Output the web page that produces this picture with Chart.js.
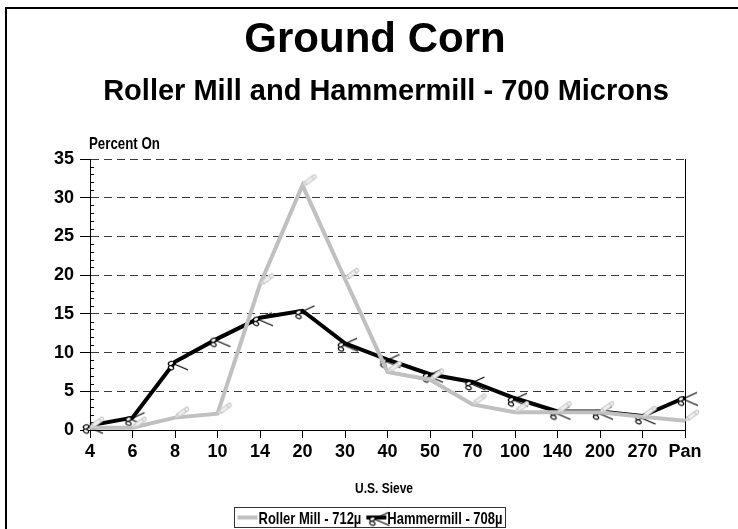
<!DOCTYPE html>
<html>
<head>
<meta charset="utf-8">
<script src="https://cdn.jsdelivr.net/npm/chart.js@4.4.0/dist/chart.umd.min.js"></script>
<style>
html, body { margin: 0; padding: 0; background: #fff; }
</style>
</head>
<body>
<canvas id="myChart" width="738" height="529"></canvas>
<script>
const sieves = ['4', '6', '8', '10', '14', '20', '30', '40', '50', '70', '100', '140', '200', '270', 'Pan'];
const rollerMill = [0.3, 0.3, 1.6, 2.1, 18.8, 31.6, 19.5, 7.5, 6.5, 3.3, 2.3, 2.3, 2.3, 1.7, 1.2];
const hammermill = [0.6, 1.6, 8.8, 11.8, 14.5, 15.4, 11.2, 9.1, 7.2, 6.2, 4.1, 2.4, 2.4, 1.8, 4.2];
const seriesNames = ['Roller Mill - 712\u00b5', 'Hammermill - 708\u00b5'];
const yMax = 35;
const yStep = 5;

const FONT = '"Liberation Sans", Arial, Helvetica, sans-serif';
Chart.defaults.font.family = FONT;
Chart.defaults.color = '#000';

// small labels in the original are a tall, narrow face: stretch them a bit
function tallText(ctx, text, x, y, px) {
    ctx.save();
    ctx.translate(x, y);
    ctx.scale(1, 1.22);
    ctx.font = 'bold ' + px + 'px ' + FONT;
    ctx.fillText(text, 0, 0);
    ctx.restore();
}

// little pencil marker for the roller mill line
function makePencil() {
    const c = document.createElement('canvas');
    c.width = 36;
    c.height = 36;
    const g = c.getContext('2d');
    g.translate(18, 18);
    g.rotate(-Math.PI / 5);
    g.fillStyle = '#efefef';
    g.strokeStyle = '#c8c8c8';
    g.lineWidth = 1;
    g.beginPath();
    g.moveTo(0, 0);
    g.lineTo(4, -2);
    g.lineTo(4, 2);
    g.closePath();
    g.fill();
    g.stroke();
    g.fillRect(4, -2, 9, 4);
    g.strokeRect(4, -2, 9, 4);
    g.beginPath();
    g.arc(14.5, 0, 2, 0, Math.PI * 2);
    g.fill();
    g.stroke();
    return c;
}

// scissors marker for the hammermill line
function makeScissors() {
    const c = document.createElement('canvas');
    c.width = 36;
    c.height = 36;
    const g = c.getContext('2d');
    g.translate(18, 18);
    g.strokeStyle = '#000';
    g.fillStyle = '#fff';
    g.lineWidth = 1.2;
    g.beginPath();
    g.moveTo(-1, 1);
    g.lineTo(12, -5);
    g.stroke();
    g.beginPath();
    g.moveTo(-1, 2);
    g.lineTo(13, 8);
    g.stroke();
    g.beginPath();
    g.ellipse(-4, 1.5, 2.8, 1.9, -0.4, 0, Math.PI * 2);
    g.fill();
    g.stroke();
    g.beginPath();
    g.ellipse(-4, 5.8, 2.8, 1.9, 0.4, 0, Math.PI * 2);
    g.fill();
    g.stroke();
    return c;
}

const pencil = makePencil();
const scissors = makeScissors();

const decor = {
    id: 'decor',
    beforeDraw(chart) {
        const ctx = chart.ctx;
        ctx.save();
        ctx.fillStyle = '#fff';
        ctx.fillRect(0, 0, chart.width, chart.height);
        ctx.restore();
    },
    beforeDatasetsDraw(chart) {
        const ctx = chart.ctx;
        const a = chart.chartArea;
        const y = chart.scales.y;
        ctx.save();
        ctx.strokeStyle = '#000';
        ctx.lineWidth = 1;
        ctx.beginPath();
        for (let v = 1; v < yMax; v++) {
            if (v % yStep === 0) continue;
            const py = Math.round(y.getPixelForValue(v)) + 0.5;
            ctx.moveTo(a.left, py);
            ctx.lineTo(a.left + 4, py);
        }
        ctx.moveTo(Math.round(a.right) + 0.5, a.top);
        ctx.lineTo(Math.round(a.right) + 0.5, a.bottom);
        ctx.stroke();
        ctx.restore();
    },
    afterDraw(chart) {
        const ctx = chart.ctx;
        ctx.save();
        // outer frame (only top and left show)
        ctx.strokeStyle = '#000';
        ctx.lineWidth = 2;
        ctx.beginPath();
        ctx.moveTo(6, chart.height);
        ctx.lineTo(6, 8);
        ctx.lineTo(chart.width, 8);
        ctx.stroke();

        ctx.fillStyle = '#000';
        ctx.textBaseline = 'alphabetic';
        ctx.textAlign = 'center';
        ctx.font = 'bold 42px ' + FONT;
        ctx.fillText('Ground Corn', 375, 52);
        ctx.font = 'bold 29px ' + FONT;
        ctx.fillText('Roller Mill and Hammermill - 700 Microns', 386, 100);

        tallText(ctx, 'U.S. Sieve', 384, 493, 12);
        ctx.textAlign = 'left';
        tallText(ctx, 'Percent On', 89, 149, 13.3);

        // legend box
        const px = 13;
        ctx.font = 'bold ' + px + 'px ' + FONT;
        const sw = 20;
        const w0 = ctx.measureText(seriesNames[0]).width;
        const w1 = ctx.measureText(seriesNames[1]).width;
        const total = 3 + sw + 1 + w0 + 5 + sw + 1 + w1 + 3;
        const left = Math.round(370 - total / 2) + 0.5;
        const top = 507.5;
        const h = 20;
        const mid = top + h / 2;
        ctx.lineWidth = 1;
        ctx.strokeStyle = '#333';
        ctx.strokeRect(left, top, total, h);
        let x = left + 3;
        ctx.lineWidth = 4;
        ctx.strokeStyle = '#c0c0c0';
        ctx.beginPath();
        ctx.moveTo(x, mid);
        ctx.lineTo(x + sw, mid);
        ctx.stroke();
        x += sw + 1;
        tallText(ctx, seriesNames[0], x, mid + 6, px);
        x += w0 + 5;
        ctx.strokeStyle = '#000';
        ctx.beginPath();
        ctx.moveTo(x, mid);
        ctx.lineTo(x + sw, mid);
        ctx.stroke();
        ctx.drawImage(scissors, x + sw / 2 - 18, mid - 18);
        x += sw + 1;
        tallText(ctx, seriesNames[1], x, mid + 6, px);
        ctx.restore();
    }
};

new Chart(document.getElementById('myChart'), {
    type: 'line',
    data: {
        labels: sieves,
        datasets: [{
            label: seriesNames[0],
            data: rollerMill,
            borderColor: '#c0c0c0',
            backgroundColor: '#c0c0c0',
            borderWidth: 4,
            pointStyle: pencil,
            pointRadius: 4,
            tension: 0,
            clip: false,
        }, {
            label: seriesNames[1],
            data: hammermill,
            borderColor: '#000',
            backgroundColor: '#000',
            borderWidth: 4,
            pointStyle: scissors,
            pointRadius: 4,
            tension: 0,
            clip: false,
        }],
    },
    options: {
        responsive: false,
        animation: false,
        devicePixelRatio: 1,
        layout: {
            padding: { top: 159, left: 0, right: 53, bottom: 59 },
        },
        scales: {
            x: {
                offset: false,
                grid: {
                    drawOnChartArea: false,
                    tickLength: 8,
                    tickColor: '#000',
                },
                border: { color: '#000', width: 1 },
                ticks: {
                    color: '#000',
                    font: { size: 18, weight: 'bold' },
                    padding: 3,
                    maxRotation: 0,
                    autoSkip: false,
                },
                afterFit(s) { s.height = 40; },
            },
            y: {
                min: 0,
                max: yMax,
                ticks: {
                    stepSize: yStep,
                    color: '#000',
                    font: { size: 18, weight: 'bold' },
                    padding: 6,
                },
                grid: {
                    color: (c) => c.tick && c.tick.value === 0 ? 'rgba(0,0,0,0)' : '#3a3a3a',
                    tickLength: 10,
                    tickColor: '#000',
                },
                border: { color: '#000', width: 1, dash: [8, 5] },
                afterFit(s) { s.width = 90; },
            },
        },
        plugins: {
            legend: { display: false },
            title: { display: false },
            tooltip: { enabled: false },
        },
    },
    plugins: [decor],
});
</script>
</body>
</html>
